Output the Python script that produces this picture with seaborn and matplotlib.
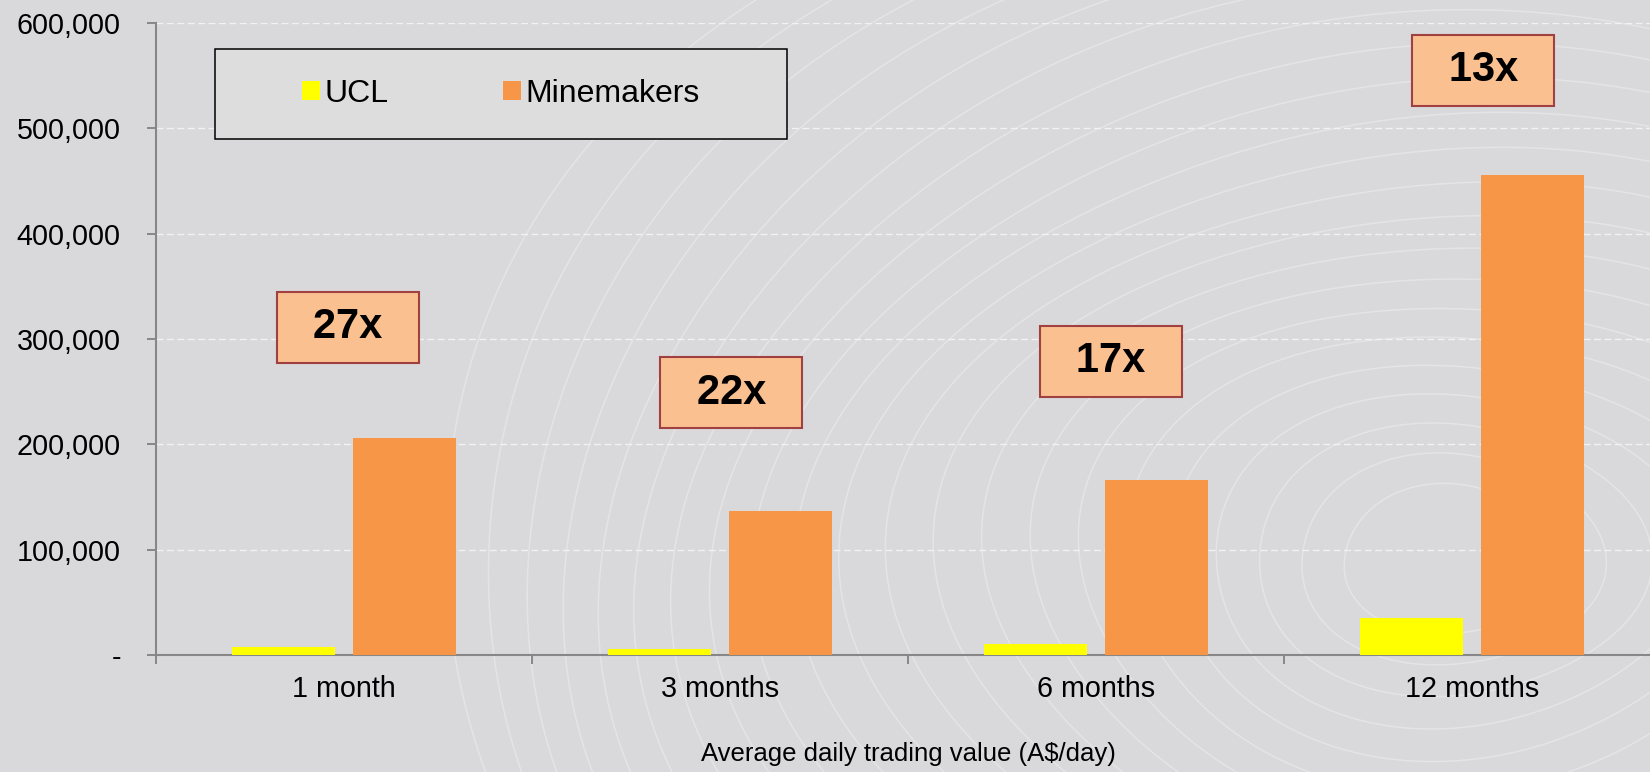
import numpy as np
import pandas as pd
import matplotlib
matplotlib.use("Agg")
import matplotlib.pyplot as plt
from matplotlib.patches import Rectangle
from matplotlib.ticker import FuncFormatter
import seaborn as sns

# ---------------- data ----------------
periods = ["1 month", "3 months", "6 months", "12 months"]
series_names = ["UCL", "Minemakers"]
ucl_values = [7500, 6000, 10000, 35000]
minemakers_values = [206000, 137000, 166000, 456000]
multiples = ["27x", "22x", "17x", "13x"]
y_ticks = [0, 100000, 200000, 300000, 400000, 500000, 600000]
x_label = "Average daily trading value (A$/day)"

# annotation label placement (layout, not data)
ann_x_offset = [0.01, 0.03, 0.04, 0.03]
ann_y = [311000, 249000, 279000, 555000]

BG = "#d9d9db"
YELLOW = "#ffff00"
ORANGE = "#f79646"
AXIS_GRAY = "#878787"

sns.set_theme(style="white")
plt.rcParams["font.family"] = ["Liberation Sans", "DejaVu Sans"]

df = pd.DataFrame({
    "period": periods * 2,
    "series": [series_names[0]] * 4 + [series_names[1]] * 4,
    "value": ucl_values + minemakers_values,
})

W, H = 1650, 772
fig = plt.figure(figsize=(W / 100, H / 100), dpi=100, facecolor=BG)

# decorative background contour-like rings
bg = fig.add_axes([0, 0, 1, 1], zorder=0)
bg.set_xlim(0, W)
bg.set_ylim(H, 0)
bg.axis("off")
t = np.linspace(0, 2 * np.pi, 600)
for s in np.linspace(0.12, 1.15, 22):
    wob = 1 + 0.03 * np.sin(3 * t + s * 7)
    bg.plot(1450 + 900 * s * wob * np.cos(t), 560 + 625 * s * wob * np.sin(t),
            color="white", alpha=0.3, lw=1.1)

# main axes
ax = fig.add_axes([156 / W, 117 / H, 1504 / W, 632 / H], zorder=1)
ax.set_facecolor("none")

sns.barplot(data=df, x="period", y="value", hue="series", order=periods,
            hue_order=series_names, palette=[YELLOW, ORANGE], saturation=1,
            width=0.64, gap=0.144, ax=ax, zorder=3, linewidth=0,
            edgecolor="none")

ax.set_xlim(-0.5, 3.5)
ax.set_ylim(0, 600000)
ax.set_yticks(y_ticks)
ax.yaxis.set_major_formatter(FuncFormatter(lambda v, p: "-" if v == 0 else f"{int(v):,}"))

ax.set_axisbelow(True)
ax.yaxis.grid(True, color="#f2f2f2", lw=1.0, linestyle=(0, (5, 2.5)))
ax.xaxis.grid(False)

for s in ["top", "right"]:
    ax.spines[s].set_visible(False)
for s in ["left", "bottom"]:
    ax.spines[s].set_color(AXIS_GRAY)
    ax.spines[s].set_linewidth(1.5)

ax.tick_params(axis="y", which="major", left=True, length=6.3, width=1.4,
               color=AXIS_GRAY, pad=19, labelsize=20.7, labelcolor="black")
ax.set_xticks(range(len(periods)))
ax.set_xticklabels(periods)
ax.set_xticks([-0.5, 0.5, 1.5, 2.5, 3.5], minor=True)
ax.tick_params(axis="x", which="major", bottom=True, length=0, pad=14.6,
               labelsize=20.7, labelcolor="black")
ax.tick_params(axis="x", which="minor", bottom=True, length=6.3, width=1.4,
               color=AXIS_GRAY)

ax.set_ylabel("")
ax.set_xlabel(x_label, fontsize=18.5, color="black")
ax.xaxis.set_label_coords(0.5, -0.1566)
ax.xaxis.label.set_va("center")

# multiple annotations
for i, (lab, dx, yv) in enumerate(zip(multiples, ann_x_offset, ann_y)):
    ax.text(i + dx, yv, "\u2002" + lab + "\u2002", ha="center", va="center",
            fontsize=30, fontweight="bold", color="black", zorder=5,
            bbox=dict(boxstyle="square,pad=0.37", facecolor="#fac090",
                      edgecolor="#a04040", linewidth=1.5))

# legend with custom frame
handles, labels = ax.get_legend_handles_labels()
if ax.get_legend() is not None:
    ax.get_legend().remove()
lx0, ly0, lw_, lh_ = 215, 49, 572, 90
frame = Rectangle((lx0 / W, 1 - (ly0 + lh_) / H), lw_ / W, lh_ / H,
                  transform=fig.transFigure, facecolor="#dddddd",
                  edgecolor="black", linewidth=1.1, zorder=4, clip_on=False)
ax.add_patch(frame)
leg = ax.legend(handles, labels, loc="center",
                bbox_to_anchor=((lx0 + lw_ / 2) / W, 1 - (ly0 + lh_ / 2) / H),
                bbox_transform=fig.transFigure, ncol=2, frameon=False,
                fontsize=23, handlelength=0.55, handleheight=0.55,
                handletextpad=0.15, columnspacing=3.6)
leg.set_zorder(6)
for txt in leg.get_texts():
    txt.set_color("black")

fig.savefig("out.png", dpi=100, facecolor=BG)
